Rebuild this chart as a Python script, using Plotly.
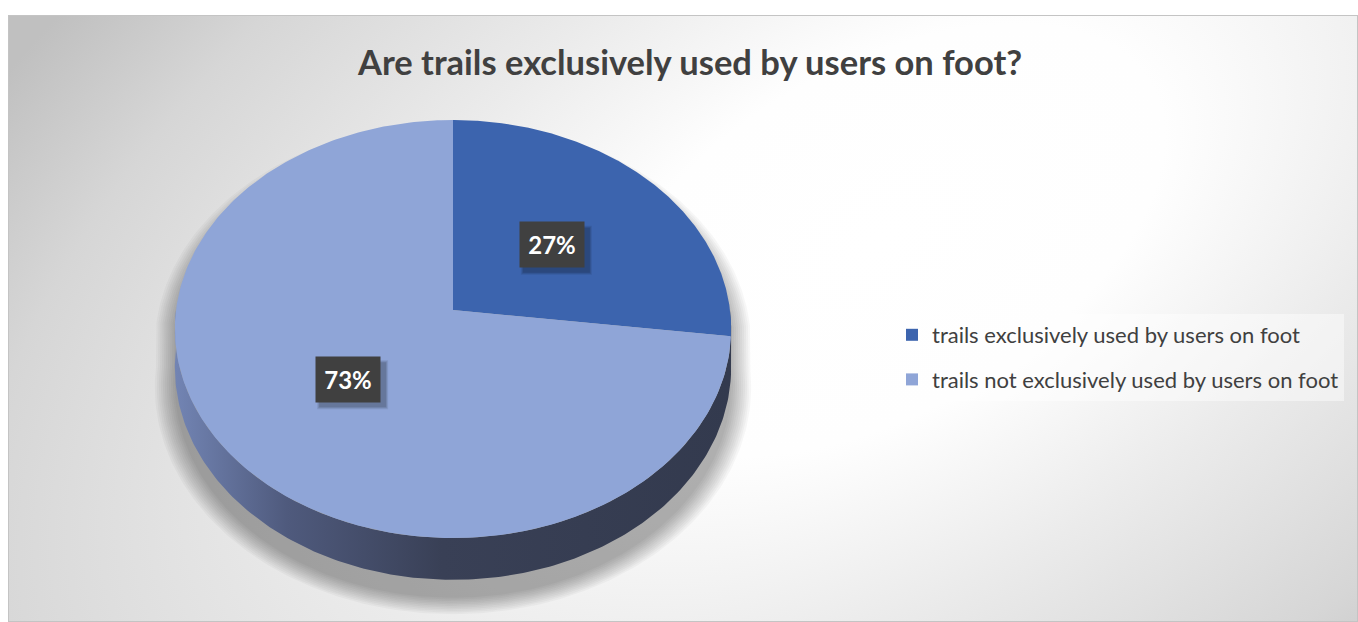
import base64
import numpy as np
import plotly.graph_objects as go

# ---- chart data ----
categories = [
    "trails exclusively used by users on foot",
    "trails not exclusively used by users on foot",
]
values = [27, 73]
slice_colors = ["#3C64AE", "#8FA5D7"]
title_text = "Are trails exclusively used by users on foot?"

# ---- canvas ----
W, H = 1358, 622
FONT = "Lato"

# ---- tilted-disc geometry (pixel space, y grows downward) ----
CX, CY = 453.0, 310.0      # projected centre of the disc
RX, RY = 277.0, 207.3      # horizontal / vertical radii
PERSP = 0.0909             # perspective strength
DEPTH = 38.0               # thickness of the disc


def rim(theta_deg, f=1.0):
    """Project points of the disc (angle clockwise from the far edge)."""
    t = np.radians(theta_deg)
    X, Z = f * np.sin(t), f * np.cos(t)
    den = 1.0 + PERSP * Z
    return CX + RX * X / den, CY - RY * Z / den, den


total = float(sum(values))
bounds = np.concatenate([[0.0], np.cumsum(values) / total * 360.0])

fig = go.Figure()

# soft drop shadow under the disc
th = np.linspace(0, 360, 361)
sx, sy, sden = rim(th)
sy = np.where(np.cos(np.radians(th)) < 0, sy + DEPTH / sden, sy)
scy = 345.0
for e in np.linspace(20, 0, 11):
    fig.add_trace(go.Scatter(
        x=CX + (sx - CX) * (RX + e) / RX,
        y=scy + 18 + (sy - scy) * (230 + e * 0.8) / 230,
        mode="lines", fill="toself", line=dict(width=0),
        fillcolor="rgba(0,0,0,0.03)", hoverinfo="skip", showlegend=False,
    ))

# visible side walls (front half of the disc)
side_scale = [[0.0, "#7284b3"], [0.2, "#4f5a7d"], [0.48, "#394056"], [1.0, "#333a4e"]]
for i in range(len(values)):
    a0, a1 = max(bounds[i], 90.0), min(bounds[i + 1], 270.0)
    if a1 <= a0:
        continue
    arc = np.linspace(a0, a1, 200)
    tx, ty, tden = rim(arc)
    bx, by = tx[::-1], (ty + DEPTH / tden)[::-1]
    fig.add_trace(go.Scatter(
        x=np.concatenate([tx, bx]), y=np.concatenate([ty, by]),
        mode="lines", fill="toself", line=dict(width=0),
        fillgradient=dict(type="horizontal", colorscale=side_scale,
                          start=CX - RX, stop=CX + RX),
        hoverinfo="skip", showlegend=False,
    ))

# top faces of the slices
for i in range(len(values)):
    arc = np.linspace(bounds[i], bounds[i + 1], 300)
    tx, ty, _ = rim(arc)
    fig.add_trace(go.Scatter(
        x=np.concatenate([[CX], tx, [CX]]), y=np.concatenate([[CY], ty, [CY]]),
        mode="lines", fill="toself", line=dict(width=0),
        fillcolor=slice_colors[i], name=categories[i],
        hoverinfo="name", showlegend=False,
    ))

# legend entries
for name, col in zip(categories, slice_colors):
    fig.add_trace(go.Scatter(
        x=[None], y=[None], mode="markers", name=name, legendgroup=name,
        marker=dict(symbol="square", size=12, color=col),
    ))

# percentage labels in dark boxes with a drop shadow
shapes = []
annotations = []
for i, v in enumerate(values):
    mid = (bounds[i] + bounds[i + 1]) / 2
    lx, ly, _ = rim(mid, 0.49)
    lx, ly = float(lx), float(ly)
    for k, a in enumerate([0.08, 0.1, 0.12]):
        g = 2 - k
        shapes.append(dict(type="rect", xref="x", yref="y",
                           x0=lx - 29 - g, x1=lx + 38 + g,
                           y0=ly - 17 - g, y1=ly + 28 + g,
                           fillcolor=f"rgba(0,0,0,{a})", line=dict(width=0),
                           layer="above"))
    annotations.append(dict(
        x=lx, y=ly, xref="x", yref="y", showarrow=False,
        text=f"<b>{v / total * 100:.0f}%</b>",
        font=dict(family=FONT, size=24, color="white"),
        bgcolor="#404040", borderpad=8, width=48,
    ))

annotations.append(dict(
    x=689 / W, y=1 - 61 / H, xref="paper", yref="paper", showarrow=False,
    text=f"<b>{title_text}</b>", xanchor="center", yanchor="middle",
    font=dict(family=FONT, size=34.5, color="#404040"),
))

# chart-area background: soft elliptical gradient
bw, bh = W - 8, H - 15
svg = f"""<svg xmlns='http://www.w3.org/2000/svg' width='{bw}' height='{bh}' viewBox='0 0 {bw} {bh}'>
<defs><radialGradient id='g' gradientUnits='userSpaceOnUse' cx='0' cy='0' r='1'
 gradientTransform='translate(872 225) rotate(150) scale(1250 690)'>
<stop offset='0' stop-color='#ffffff'/><stop offset='0.25' stop-color='#fefefe'/>
<stop offset='0.5' stop-color='#ebebeb'/><stop offset='0.8' stop-color='#d6d6d6'/>
<stop offset='1' stop-color='#c0c0c0'/></radialGradient></defs>
<rect x='0.5' y='0.5' width='{bw - 1}' height='{bh - 1}' fill='url(#g)' stroke='#c4c4c4' stroke-width='1'/>
</svg>"""
bg_uri = "data:image/svg+xml;base64," + base64.b64encode(svg.encode()).decode()

fig.update_layout(
    width=W, height=H,
    margin=dict(l=0, r=0, t=0, b=0),
    paper_bgcolor="white", plot_bgcolor="rgba(0,0,0,0)",
    xaxis=dict(range=[0, W], visible=False, fixedrange=True, domain=[0, 1]),
    yaxis=dict(range=[H, 0], visible=False, fixedrange=True, domain=[0, 1]),
    images=[dict(source=bg_uri, xref="paper", yref="paper",
                 x=8 / W, y=1 - 15 / H, sizex=bw / W, sizey=bh / H,
                 xanchor="left", yanchor="top", sizing="stretch", layer="below")],
    shapes=shapes,
    annotations=annotations,
    showlegend=True,
    legend=dict(x=892 / W, y=1 - 314 / H, xanchor="left", yanchor="top",
                bgcolor="rgba(255,255,255,0.45)", borderwidth=0,
                font=dict(family=FONT, size=22, color="#404040"),
                tracegroupgap=13, itemsizing="constant"),
    hovermode="closest",
)

fig.write_html("out.html")
